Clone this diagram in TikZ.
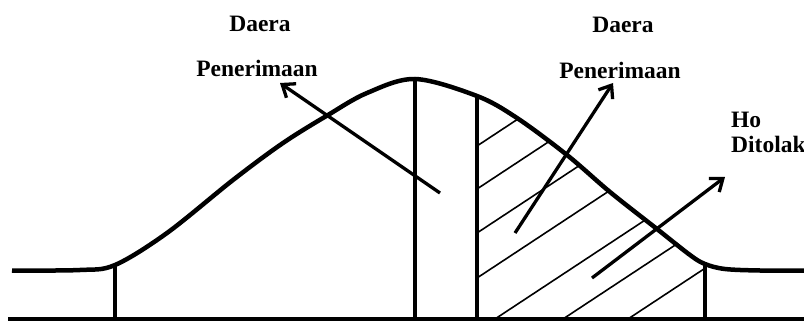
\documentclass[tikz,border=0pt]{standalone}
\usepackage{fontspec}
\setmainfont{Liberation Serif}
\usetikzlibrary{arrows.meta}
\begin{document}
\begin{tikzpicture}[x=1pt,y=-1pt,
  curveline/.style={line width=4.5pt,line join=round},
  vline/.style={line width=3.3pt},
  hatch/.style={line width=1.6pt},
  arr/.style={line width=3.3pt,-{Straight Barb[length=11pt,width=17pt,line width=3.3pt]}},
  lbl/.style={font=\bfseries\fontsize{23.5}{24}\selectfont,inner sep=0pt,anchor=base}]
\useasboundingbox (0,0) rectangle (804,321);
\clip (0,0) rectangle (804,321);
\def\bellcurve{plot[smooth,tension=0.55] coordinates {(12,270.5) (80,270) (115,265) (167,233) (233,180) (283,143) (328,115) (367,93) (415,79) (477,96) (517,118) (567,155) (610,192) (657,229) (690,255) (705,264) (725,269) (760,270.5) (804,270.5)}}
% coordinates
\coordinate (bl) at (8,319);
\coordinate (br) at (804,319);
\coordinate (v1t) at (115,265); \coordinate (v1b) at (115,319);
\coordinate (v2t) at (415,79);  \coordinate (v2b) at (415,319);
\coordinate (v3t) at (477,96);  \coordinate (v3b) at (477,319);
\coordinate (v4t) at (705,264); \coordinate (v4b) at (705,319);
% hatching
\begin{scope}
  \clip (477,0) rectangle (705,319);
  \clip \bellcurve -- (804,330) -- (12,330) -- cycle;
  \foreach \sx/\sy in {477/146,477/189,477/233,477/278,495/319,563/319,628/319}
    \draw[hatch] (\sx,\sy) -- ++(220,-145);
\end{scope}
% curve
\draw[curveline] \bellcurve;
% baseline and verticals
\draw[vline] (bl) -- (br);
\draw[vline] (v1t) -- (v1b);
\draw[vline] (v2t) -- (v2b);
\draw[vline] (v3t) -- (v3b);
\draw[vline] (v4t) -- (v4b);
% arrows
\coordinate (a1s) at (440,193); \coordinate (a1e) at (280,83);
\coordinate (a2s) at (515,233); \coordinate (a2e) at (613,83);
\coordinate (a3s) at (592,278); \coordinate (a3e) at (725,177);
\draw[arr] (a1s) -- (a1e);
\draw[arr] (a2s) -- (a2e);
\draw[arr] (a3s) -- (a3e);
% labels
\node[lbl] (d1) at (260,32) {Daera};
\node[lbl] (p1) at (257,77) {Penerimaan};
\node[lbl] (d2) at (623,33) {Daera};
\node[lbl] (p2) at (620,79) {Penerimaan};
\node[lbl,anchor=base west] (ho) at (731,128) {Ho};
\node[lbl,anchor=base west] (dt) at (731,152) {Ditolak};
\end{tikzpicture}
\end{document}
